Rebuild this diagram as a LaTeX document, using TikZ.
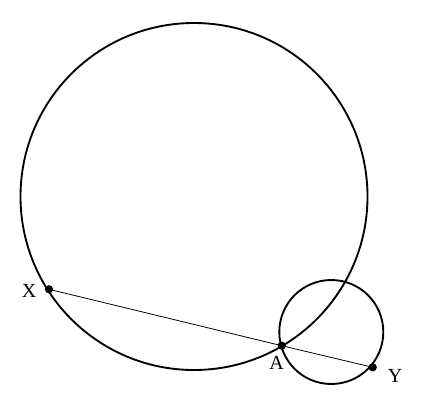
\documentclass[tikz,border=0pt]{standalone}
\usepackage{fontspec}
\setmainfont{Liberation Serif}
\begin{document}
\begin{tikzpicture}[x=0.75pt,y=-0.75pt,
  circ/.style={line width=1.4pt},
  seg/.style={line width=0.6pt},
  dot/.style={circle,fill=black,inner sep=0pt,minimum size=6.2pt},
  lab/.style={font=\fontsize{15}{18}\selectfont,inner sep=0pt}]
\useasboundingbox (0,0) rectangle (424,400);
\coordinate (O1) at (194,196.5);
\coordinate (O2) at (331.3,332);
\draw[circ] (O1) circle[radius=173.5];
\draw[circ] (O2) circle[radius=52];
\node[dot] (X) at (49,289.3) {};
\node[dot] (A) at (281.7,345.7) {};
\node[dot] (Y) at (372.7,367.3) {};
\draw[seg] (X.center) -- (A.center) -- (Y.center);
\node[lab] (lX) at (29,290.7) {X};
\node[lab] (lA) at (276.7,362.8) {A};
\node[lab] (lY) at (395,376) {Y};
\end{tikzpicture}
\end{document}
